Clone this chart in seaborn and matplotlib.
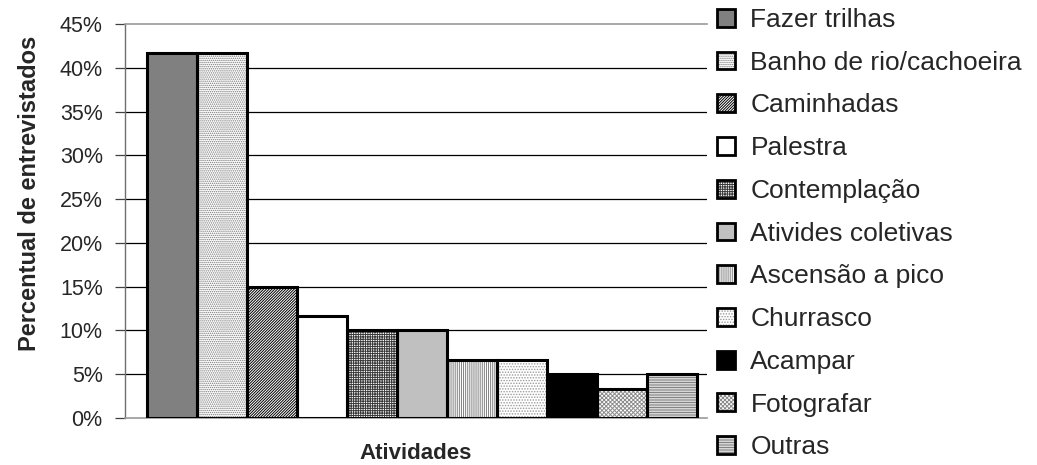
import matplotlib
matplotlib.use("Agg")
import matplotlib.pyplot as plt
import seaborn as sns
import pandas as pd
from matplotlib.patches import Rectangle, Patch
from matplotlib.legend_handler import HandlerTuple
from matplotlib.ticker import PercentFormatter

# Activities and share of interviewees (%)
atividades = ["Fazer trilhas", "Banho de rio/cachoeira", "Caminhadas", "Palestra",
              "Contemplação", "Ativides coletivas", "Ascensão a pico", "Churrasco",
              "Acampar", "Fotografar", "Outras"]
percentual = [41.67, 41.67, 15.0, 11.67, 10.0, 10.0, 6.67, 6.67, 5.0, 3.33, 5.0]
y_ticks = [0, 5, 10, 15, 20, 25, 30, 35, 40, 45]

# fill colour, hatch pattern, hatch colour for each activity
estilos = [
    ("#808080", "", "#808080"),
    ("#ffffff", "........", "#7a7a7a"),
    ("#ffffff", "////////////", "#000000"),
    ("#ffffff", "", "#ffffff"),
    ("#ffffff", "+++++++", "#3a3a3a"),
    ("#c0c0c0", "", "#c0c0c0"),
    ("#ffffff", "||||||||", "#808080"),
    ("#ffffff", "......", "#9a9a9a"),
    ("#000000", "", "#000000"),
    ("#ffffff", "xxxxxxxx", "#8c8c8c"),
    ("#ffffff", "----------", "#808080"),
]

sns.set_style("white")
plt.rcParams["font.family"] = ["Liberation Sans", "DejaVu Sans"]
plt.rcParams["hatch.linewidth"] = 0.7

df = pd.DataFrame({"atividade": atividades, "percentual": percentual})

fig = plt.figure(figsize=(10.37, 4.65), dpi=100)
ax = fig.add_axes([0.1205, 0.1011, 0.5613, 0.8473])

sns.barplot(data=df, x="atividade", y="percentual", hue="atividade",
            palette=[e[0] for e in estilos], width=1.0, dodge=False,
            legend=False, saturation=1, ax=ax)

handles = []
for patch, (fc, hatch, hc) in zip(ax.patches, estilos):
    patch.set_facecolor(fc)
    patch.set_hatch(hatch)
    patch.set_edgecolor(hc)
    patch.set_linewidth(0)
    borda = Rectangle(patch.get_xy(), patch.get_width(), patch.get_height(),
                      fill=False, edgecolor="black", linewidth=2.2, zorder=3)
    ax.add_patch(borda)
    h_fill = Patch(facecolor=fc, hatch=hatch, edgecolor=hc, linewidth=0)
    h_edge = Patch(fill=False, edgecolor="black", linewidth=2.0)
    handles.append((h_fill, h_edge))

ax.set_xlim(-0.94, 10.7)
ax.set_ylim(0, 45)
ax.set_yticks(y_ticks)
ax.yaxis.set_major_formatter(PercentFormatter(decimals=0))
ax.set_xticks([])

# horizontal gridlines
for v in y_ticks[1:-1]:
    ax.axhline(v, color="black", linewidth=0.9, zorder=0.5)

ax.spines["right"].set_visible(False)
ax.spines["top"].set_color("#999999")
ax.spines["top"].set_linewidth(1.2)
ax.spines["left"].set_color("#707070")
ax.spines["left"].set_linewidth(1.0)
ax.spines["bottom"].set_color("#999999")
ax.spines["bottom"].set_linewidth(1.2)

ax.tick_params(axis="y", direction="out", length=7, width=0.9, color="#404040",
               labelsize=15.5, pad=9, left=True)
ax.set_ylabel("Percentual de entrevistados", fontsize=17, fontweight="bold")
ax.yaxis.set_label_coords(-0.145, 0.571)
ax.set_xlabel("Atividades", fontsize=16, fontweight="bold")
ax.xaxis.set_label_coords(0.5, -0.063)

fig.legend(handles, atividades, handler_map={tuple: HandlerTuple(ndivide=1, pad=0)},
           loc="upper left", bbox_to_anchor=(0.689, 0.9885), frameon=False,
           fontsize=19, handlelength=0.66, handleheight=0.66, handletextpad=0.6,
           labelspacing=0.71, borderaxespad=0, borderpad=0.1)

fig.savefig("out.png", dpi=100)
